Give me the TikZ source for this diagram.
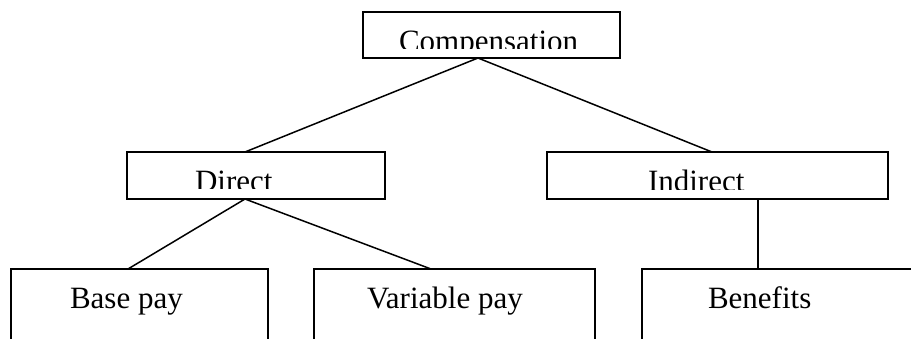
\documentclass[tikz,border=0pt]{standalone}
\usepackage{fontspec}
\setmainfont{Liberation Serif}
\begin{document}
\begin{tikzpicture}[x=1pt,y=-1pt,
  box/.style={draw=black,line width=1.6pt,inner sep=0pt,outer sep=0pt,fill=none},
  lbl/.style={inner sep=0pt,outer sep=0pt,anchor=base west,font=\fontsize{31}{36}\selectfont},
  conn/.style={draw=black,line width=1.5pt}]
\useasboundingbox (0,0) rectangle (911,338);
\clip (0,0) rectangle (911,338);
% boxes
\node[box,minimum width=257pt,minimum height=46pt] (comp) at (491.5,35) {};
\node[box,minimum width=258pt,minimum height=47pt] (direct) at (256,175.5) {};
\node[box,minimum width=341pt,minimum height=47pt] (indirect) at (717.5,175.5) {};
\node[box,minimum width=257pt,minimum height=91pt] (base) at (139.5,314.5) {};
\node[box,minimum width=281pt,minimum height=91pt] (variable) at (454.5,314.5) {};
\node[box,minimum width=318pt,minimum height=91pt] (benefits) at (801,314.5) {};
% labels (top ones clipped at the bottom as in the original)
\begin{scope}
  \clip (370,14) rectangle (615,48);
  \node[lbl] (tcomp) at (399,51) {Compensation};
\end{scope}
\begin{scope}
  \clip (130,154) rectangle (380,188);
  \node[lbl] (tdirect) at (195,191) {Direct};
\end{scope}
\begin{scope}
  \clip (550,154) rectangle (885,189);
  \node[lbl] (tindirect) at (648,191) {Indirect};
\end{scope}
\node[lbl] (tbase) at (70,308) {Base pay};
\node[lbl] (tvariable) at (367,308) {Variable pay};
\node[lbl] (tbenefits) at (708,308) {Benefits};
% connectors
\draw[conn] ([xshift=-13.5pt]comp.south) -- ([xshift=-11pt]direct.north);
\draw[conn] ([xshift=-13.5pt]comp.south) -- ([xshift=-5.5pt]indirect.north);
\draw[conn] ([xshift=-11pt]direct.south) -- ([xshift=-11.5pt]base.north);
\draw[conn] ([xshift=-11pt]direct.south) -- ([xshift=-23.5pt]variable.north);
\draw[conn] ([xshift=40.5pt]indirect.south) -- ([xshift=-43pt]benefits.north);
\end{tikzpicture}
\end{document}
